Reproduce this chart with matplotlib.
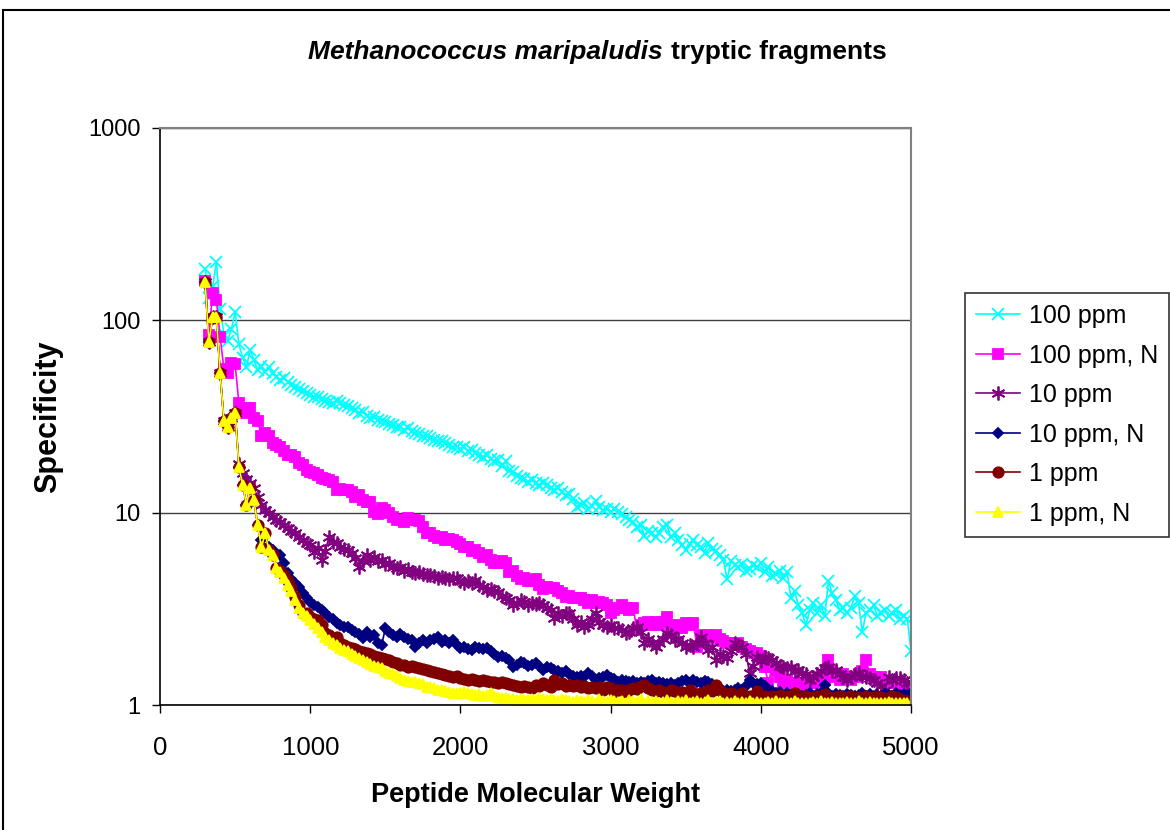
import matplotlib
matplotlib.use("Agg")
import matplotlib.pyplot as plt
from matplotlib.patches import Rectangle

plt.rcParams['font.family'] = ['Liberation Sans', 'DejaVu Sans']

# peptide masses, 25 Da bins from 300 to 5000
mass = list(range(300, 5001, 25))

ppm100 = [185, 130, 150, 200, 115, 85, 78, 90, 110, 75,
          64, 57, 70, 62, 55, 58, 54, 57, 53, 51,
          49, 50, 48, 46, 45, 44, 43, 42, 41, 40,
          40, 39, 38, 37.5, 37, 38, 37, 36.5, 36, 35,
          34, 33, 33.5, 32, 31, 31.5, 30.5, 30, 29.5, 29,
          28.5, 28, 28, 27, 27.5, 26.5, 26, 25.5, 25, 25,
          24.5, 24, 23.5, 23.5, 23, 22.5, 22, 22, 21.5, 22,
          21, 21.2, 20.5, 20, 19.5, 20, 19, 18.5, 18.8, 17.5,
          18.5, 16.5, 16.3, 15.5, 15.1, 15, 14.5, 14.8, 14.3, 14,
          14.3, 14, 13.5, 13.1, 13.5, 12.8, 12.3, 12.5, 11.8, 10.7,
          11, 11.2, 10.5, 10.8, 11.5, 10.7, 10.3, 10.5, 10.1, 10.4,
          10.1, 9.8, 9.5, 9.2, 8.9, 8.4, 8.6, 7.6, 8.0, 7.8,
          7.5, 7.8, 8.4, 8.6, 7.5, 7.8, 7.2, 6.8, 6.4, 6.9,
          7.2, 6.8, 6.6, 6.2, 6.95, 6.5, 6.3, 6.0, 5.7, 4.5,
          5.6, 5.35, 5.2, 5.4, 5.0, 5.1, 5.35, 5.2, 5.5, 4.9,
          5.2, 4.7, 4.8, 5.0, 4.6, 4.9, 3.6, 3.9, 3.3, 3.0,
          2.6, 3.1, 3.4, 3.0, 3.3, 2.9, 4.4, 3.8, 3.5, 3.1,
          3.2, 3.0, 3.2, 3.7, 3.4, 2.4, 3.0, 3.1, 3.3, 2.9,
          3.0, 3.1, 2.9, 3.0, 3.1, 2.8, 2.9, 2.8, 1.9]

ppm100_n = [160, 84, 139, 128, 82, 56, 53, 60, 59, 37,
            33, 35, 35, 31, 30, 25, 26, 25, 23, 22.5,
            22, 21, 20, 20, 19.5, 18.2, 17.7, 16.6, 16.3, 16,
            15.7, 15.2, 15, 14.8, 14.5, 13.1, 13.3, 13.1, 13.1, 12.8,
            12.1, 12.3, 11.7, 11.3, 11.3, 10.1, 9.9, 10.6, 10.3, 10.0,
            9.5, 9.2, 9.2, 8.9, 9.4, 9.2, 9.2, 9.0, 8.4, 7.8,
            7.8, 7.6, 7.4, 7.5, 7.2, 7.3, 7.2, 7.0, 6.9, 6.6,
            6.6, 6.3, 6.4, 6.2, 5.9, 6.0, 5.7, 5.5, 5.5, 5.6,
            5.5, 4.9, 5.0, 4.7, 4.5, 4.6, 4.4, 4.4, 4.5, 4.2,
            4.0, 4.1, 4.05, 4.05, 3.9, 3.8, 3.65, 3.7, 3.6, 3.6,
            3.6, 3.5, 3.4, 3.5, 3.4, 3.43, 3.4, 3.3, 3.0, 3.1,
            3.2, 3.3, 3.2, 3.1, 3.2, 2.45, 2.6, 2.67, 2.7, 2.6,
            2.7, 2.6, 2.7, 2.87, 2.37, 2.5, 2.6, 2.5, 2.67, 2.6,
            2.67, 2.0, 2.3, 2.2, 2.3, 2.25, 2.31, 2.2, 2.15, 2.1,
            2.1, 2.05, 2.1, 2.0, 1.95, 1.9, 1.86, 1.86, 1.8, 1.58,
            1.3, 1.58, 1.5, 1.4, 1.3, 1.35, 1.27, 1.3, 1.25, 1.3,
            1.23, 1.3, 1.35, 1.3, 1.4, 1.35, 1.71, 1.5, 1.4, 1.35,
            1.45, 1.4, 1.35, 1.4, 1.45, 1.5, 1.71, 1.45, 1.4, 1.35,
            1.4, 1.3, 1.3, 1.35, 1.3, 1.28, 1.24, 1.25, 1.17]

ppm10 = [158, 77, 104, 104, 53, 30, 28, 31, 33, 18,
         16, 15, 14.3, 13.5, 12, 11, 10.3, 10, 9.5, 9.2,
         8.9, 8.6, 8.3, 8.0, 7.8, 7.5, 7.2, 6.95, 6.8, 6.25,
         6.55, 5.7, 6.3, 7.5, 7.0, 6.95, 6.6, 6.5, 6.4, 6.2,
         5.8, 5.2, 5.6, 6.0, 5.7, 5.9, 5.6, 5.7, 5.4, 5.5,
         5.2, 5.15, 5.2, 5.0, 5.1, 4.9, 4.85, 4.9, 4.8, 4.75,
         4.75, 4.7, 4.6, 4.65, 4.6, 4.5, 4.6, 4.55, 4.4, 4.3,
         4.4, 4.3, 4.45, 4.2, 4.1, 3.95, 4.0, 3.9, 3.87, 3.7,
         3.6, 3.5, 3.3, 3.4, 3.5, 3.45, 3.3, 3.4, 3.35, 3.4,
         3.3, 3.2, 3.1, 2.84, 3.0, 2.9, 3.0, 3.0, 2.8, 2.6,
         2.7, 2.55, 2.6, 2.8, 3.0, 2.7, 2.6, 2.55, 2.6, 2.5,
         2.5, 2.45, 2.37, 2.4, 2.5, 2.55, 2.4, 2.1, 2.2, 2.1,
         2.0, 2.1, 2.2, 2.37, 2.3, 2.18, 2.2, 2.1, 2.0, 2.05,
         2.0, 2.1, 2.26, 2.1, 1.93, 2.0, 1.71, 1.85, 1.8, 1.75,
         1.9, 2.1, 2.05, 2.0, 1.85, 1.47, 1.6, 1.78, 1.7, 1.78,
         1.75, 1.71, 1.65, 1.6, 1.58, 1.55, 1.58, 1.5, 1.52, 1.47,
         1.45, 1.35, 1.4, 1.45, 1.5, 1.55, 1.58, 1.5, 1.52, 1.45,
         1.4, 1.35, 1.4, 1.45, 1.47, 1.42, 1.40, 1.38, 1.35, 1.3,
         1.25, 1.2, 1.40, 1.35, 1.38, 1.38, 1.35, 1.3, 1.32]

ppm10_n = [158, 77, 104, 104, 53, 30, 28, 31, 33, 17.3,
           14, 11, 13.5, 11.6, 8.6, 7.2, 7.8, 6.6, 6.4, 6.0,
           6.0, 5.5, 4.86, 4.5, 4.3, 4.1, 3.8, 3.6, 3.43, 3.3,
           3.23, 3.1, 3.0, 2.87, 2.8, 2.67, 2.6, 2.55, 2.55, 2.45,
           2.4, 2.35, 2.23, 2.4, 2.26, 2.3, 2.1, 2.05, 2.5, 2.4,
           2.3, 2.26, 2.35, 2.26, 2.2, 2.18, 2.0, 2.1, 2.18, 2.1,
           2.18, 2.2, 2.26, 2.13, 2.18, 2.1, 2.18, 2.05, 1.98, 2.0,
           1.95, 1.93, 2.0, 1.98, 1.95, 1.98, 1.9, 1.85, 1.78, 1.8,
           1.76, 1.72, 1.58, 1.62, 1.67, 1.65, 1.6, 1.62, 1.65, 1.6,
           1.52, 1.58, 1.55, 1.52, 1.5, 1.47, 1.5, 1.45, 1.42, 1.40,
           1.42, 1.40, 1.47, 1.42, 1.35, 1.38, 1.4, 1.43, 1.38, 1.36,
           1.32, 1.35, 1.33, 1.32, 1.34, 1.30, 1.32, 1.30, 1.33, 1.35,
           1.3, 1.32, 1.3, 1.28, 1.30, 1.27, 1.3, 1.33, 1.35, 1.3,
           1.35, 1.32, 1.3, 1.33, 1.32, 1.28, 1.2, 1.22, 1.17, 1.2,
           1.18, 1.2, 1.22, 1.2, 1.25, 1.35, 1.3, 1.28, 1.3, 1.25,
           1.2, 1.18, 1.15, 1.17, 1.12, 1.15, 1.13, 1.15, 1.14, 1.12,
           1.13, 1.15, 1.12, 1.14, 1.16, 1.27, 1.15, 1.12, 1.14, 1.13,
           1.12, 1.14, 1.13, 1.11, 1.13, 1.15, 1.12, 1.14, 1.12, 1.13,
           1.12, 1.14, 1.13, 1.12, 1.15, 1.13, 1.14, 1.12, 1.15]

ppm1 = [158, 77, 104, 104, 53, 30, 28, 31, 33, 17.3,
        14, 11, 13.5, 11.6, 8.6, 6.6, 7.8, 6.4, 6.0, 5.15,
        5.0, 4.75, 4.4, 4.05, 3.65, 3.3, 3.0, 3.0, 2.87, 2.8,
        2.77, 2.6, 2.37, 2.3, 2.18, 2.26, 2.1, 2.05, 2.0, 1.98,
        1.95, 1.9, 1.88, 1.86, 1.84, 1.8, 1.78, 1.76, 1.74, 1.71,
        1.68, 1.65, 1.61, 1.62, 1.58, 1.6, 1.58, 1.55, 1.54, 1.52,
        1.5, 1.48, 1.47, 1.45, 1.43, 1.42, 1.40, 1.41, 1.38, 1.36,
        1.35, 1.36, 1.35, 1.34, 1.35, 1.33, 1.32, 1.32, 1.30, 1.31,
        1.30, 1.29, 1.27, 1.26, 1.24, 1.25, 1.24, 1.22, 1.27, 1.25,
        1.30, 1.27, 1.24, 1.35, 1.28, 1.30, 1.26, 1.27, 1.25, 1.27,
        1.24, 1.26, 1.22, 1.24, 1.23, 1.24, 1.20, 1.24, 1.22, 1.17,
        1.20, 1.19, 1.17, 1.20, 1.23, 1.21, 1.25, 1.27, 1.22, 1.20,
        1.18, 1.2, 1.17, 1.15, 1.2, 1.18, 1.16, 1.17, 1.15, 1.2,
        1.16, 1.14, 1.15, 1.17, 1.2, 1.18, 1.27, 1.2, 1.15, 1.13,
        1.15, 1.12, 1.13, 1.15, 1.1, 1.12, 1.08, 1.18, 1.1, 1.12,
        1.1, 1.12, 1.09, 1.13, 1.1, 1.11, 1.12, 1.16, 1.1, 1.09,
        1.11, 1.08, 1.1, 1.12, 1.09, 1.14, 1.1, 1.08, 1.1, 1.11,
        1.09, 1.1, 1.12, 1.08, 1.1, 1.07, 1.11, 1.09, 1.1, 1.12,
        1.1, 1.08, 1.09, 1.11, 1.1, 1.08, 1.06, 1.05, 1.0]

ppm1_n = [158, 77, 104, 104, 53, 30, 28, 31, 33, 17.3,
          14, 11, 13.5, 11.6, 8.6, 6.6, 7.8, 6.4, 6.0, 5.15,
          4.9, 4.6, 4.2, 3.9, 3.5, 3.2, 3.0, 2.9, 2.77, 2.65,
          2.5, 2.4, 2.25, 2.18, 2.1, 2.05, 1.98, 1.93, 1.9, 1.85,
          1.8, 1.76, 1.71, 1.68, 1.64, 1.6, 1.58, 1.55, 1.5, 1.47,
          1.45, 1.41, 1.38, 1.35, 1.34, 1.32, 1.32, 1.3, 1.28, 1.24,
          1.24, 1.22, 1.2, 1.2, 1.18, 1.17, 1.15, 1.16, 1.15, 1.17,
          1.15, 1.14, 1.13, 1.14, 1.12, 1.13, 1.15, 1.12, 1.1, 1.09,
          1.09, 1.08, 1.07, 1.06, 1.07, 1.06, 1.06, 1.08, 1.06, 1.09,
          1.07, 1.06, 1.08, 1.06, 1.05, 1.07, 1.06, 1.05, 1.04, 1.06,
          1.05, 1.04, 1.06, 1.05, 1.03, 1.07, 1.05, 1.04, 1.06, 1.05,
          1.04, 1.05, 1.03, 1.06, 1.05, 1.04, 1.07, 1.03, 1.05, 1.04,
          1.05, 1.03, 1.04, 1.06, 1.04, 1.03, 1.05, 1.04, 1.06, 1.03,
          1.04, 1.05, 1.03, 1.04, 1.06, 1.02, 1.04, 1.05, 1.03, 1.04,
          1.03, 1.05, 1.02, 1.04, 1.03, 1.05, 1.02, 1.04, 1.03, 1.02,
          1.04, 1.03, 1.05, 1.02, 1.03, 1.04, 1.02, 1.05, 1.03, 1.02,
          1.03, 1.02, 1.04, 1.03, 1.05, 1.02, 1.03, 1.04, 1.02, 1.03,
          1.02, 1.04, 1.03, 1.02, 1.05, 1.03, 1.02, 1.04, 1.03, 1.02,
          1.03, 1.02, 1.04, 1.03, 1.02, 1.03, 1.02, 1.03, 1.0]

series = [
    ("100 ppm", ppm100, "#00FFFF", "x", 9),
    ("100 ppm, N", ppm100_n, "#FF00FF", "s", 6.5),
    ("10 ppm", ppm10, "#800080", (6, 2, 0), 10),
    ("10 ppm, N", ppm10_n, "#000080", "D", 5),
    ("1 ppm", ppm1, "#800000", "o", 7.5),
    ("1 ppm, N", ppm1_n, "#FFFF00", "^", 6.5),
]

fig = plt.figure(figsize=(11.7, 8.3), dpi=100)
ax = fig.add_axes([0.1368, 0.1506, 0.6419, 0.6952])

for label, vals, color, marker, size in series:
    ax.plot(mass, vals, color=color, lw=1.2, marker=marker, ms=size,
            mec=color, mfc=color, mew=1.3, label=label)

ax.set_yscale("log")
ax.set_xlim(0, 5000)
ax.set_ylim(1, 1000)
ax.set_xticks([0, 1000, 2000, 3000, 4000, 5000])
ax.set_yticks([1, 10, 100, 1000])
ax.set_yticklabels(["1", "10", "100", "1000"])
ax.minorticks_off()
ax.tick_params(axis="x", labelsize=18.5, length=6, width=1, direction="out", pad=16)
ax.tick_params(axis="y", labelsize=17, length=6, width=1, direction="out", pad=8)
ax.grid(axis="y", color="#404040", lw=1)
ax.set_axisbelow(True)

for side in ("top", "right"):
    ax.spines[side].set_color("#808080")
    ax.spines[side].set_linewidth(1.5)
for side in ("left", "bottom"):
    ax.spines[side].set_color("black")
    ax.spines[side].set_linewidth(1.2)

ax.set_xlabel("Peptide Molecular Weight", fontsize=19.5, fontweight="bold", labelpad=16)
ax.set_ylabel("Specificity", fontsize=22, fontweight="bold", labelpad=18)

# title: species name in italics, rest upright
fig.text(663 / 1170, 1 - 52 / 830, "Methanococcus maripaludis", fontsize=19,
         fontweight="bold", fontstyle="italic", ha="right", va="center")
fig.text(671 / 1170, 1 - 52 / 830, "tryptic fragments", fontsize=19,
         fontweight="bold", ha="left", va="center")

leg = fig.legend(loc="center left", bbox_to_anchor=(965 / 1170, 1 - 415 / 830),
                 fontsize=18, frameon=True, fancybox=False, handlelength=1.75,
                 handletextpad=0.35, labelspacing=0.62, borderpad=0.45,
                 borderaxespad=0)
leg.get_frame().set_edgecolor("black")
leg.get_frame().set_linewidth(1.2)

# chart border
fig.patches.append(Rectangle((3 / 1170, -0.05), 1.2, 0.05 + 820 / 830,
                             transform=fig.transFigure, fill=False,
                             edgecolor="black", lw=1.5))

fig.savefig("out.png", dpi=100)
